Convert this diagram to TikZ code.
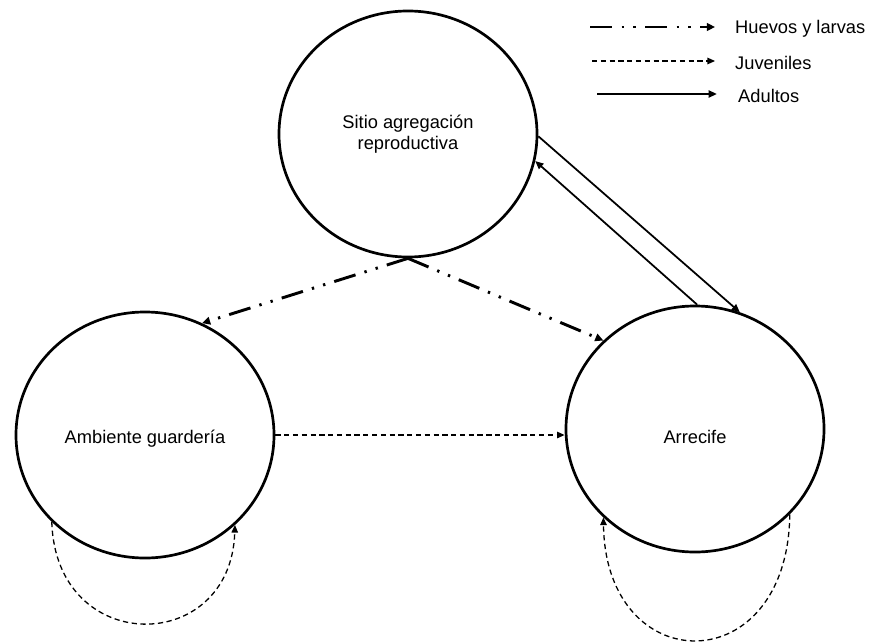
\documentclass[tikz,border=0pt]{standalone}
\usepackage{fontspec}
\setmainfont{Liberation Sans}
\usetikzlibrary{arrows.meta,shapes.geometric}

\begin{document}
\begin{tikzpicture}[
            x=0.03cm, y=-0.03cm,
            habitat/.style={ellipse, draw=black, line width=2.3pt, minimum width=7.74cm, minimum height=7.38cm, inner sep=0pt, align=center, font=\fontsize{15.6}{18}\selectfont},
            huevos/.style={line width=2.5pt, dash pattern=on 19pt off 8pt on 2pt off 8pt on 2pt off 8pt, -{Triangle[length=7pt,width=6.5pt]}},
            juveniles/.style={line width=1.1pt, dash pattern=on 4.5pt off 3pt, -{Triangle[length=6.5pt,width=5.5pt]}},
            adultos/.style={line width=1.5pt, -{Triangle[length=7pt,width=6pt]}},
            legend/.style={anchor=west, inner sep=0pt, font=\fontsize{15.6}{18}\selectfont}
        ]

        \useasboundingbox (0,0) rectangle (869,641);

        % Habitats
        \node[habitat] (sitio) at (408,134) {Sitio agregación\\reproductiva};
        \node[habitat] (guarderia) at (145,435) {\smash{\raisebox{-7.3pt}{Ambiente guardería}}};
        \node[habitat] (arrecife) at (695,429) {\smash{\raisebox{-12pt}{Arrecife}}};

        % Eggs and larvae
        \draw[huevos] (sitio.south) -- (guarderia.63);
        \draw[huevos] (sitio.south) -- (arrecife.136);

        % Adults
        \draw[adultos] (sitio.-1) -- (arrecife.69);
        \draw[adultos] (arrecife.89) -- (sitio.-12);

        % Juveniles
        \draw[juveniles] (guarderia.east) -- (arrecife.west |- guarderia.east);
        \draw[juveniles] (guarderia.223) .. controls +(4,135) and +(-4,131) .. (guarderia.315);
        \draw[juveniles] (arrecife.-42) .. controls +(-2,168) and +(2,163) .. (arrecife.224);

        % Legend
        \coordinate (huevos0) at (590,27);
        \coordinate (juveniles0) at (592,61);
        \coordinate (adultos0) at (597,94);
        \node[legend] (huevostxt) at (735,29) {Huevos y larvas};
        \node[legend] (juvenilestxt) at (735,63) {Juveniles};
        \node[legend] (adultostxt) at (738,96) {Adultos};
        \draw[huevos, shorten >=17pt] (huevos0) -- (huevos0 -| huevostxt.west);
        \draw[juveniles, shorten >=17pt] (juveniles0) -- (juveniles0 -| juvenilestxt.west);
        \draw[adultos, shorten >=18pt] (adultos0) -- (adultos0 -| adultostxt.west);

    \end{tikzpicture}
\end{document}
